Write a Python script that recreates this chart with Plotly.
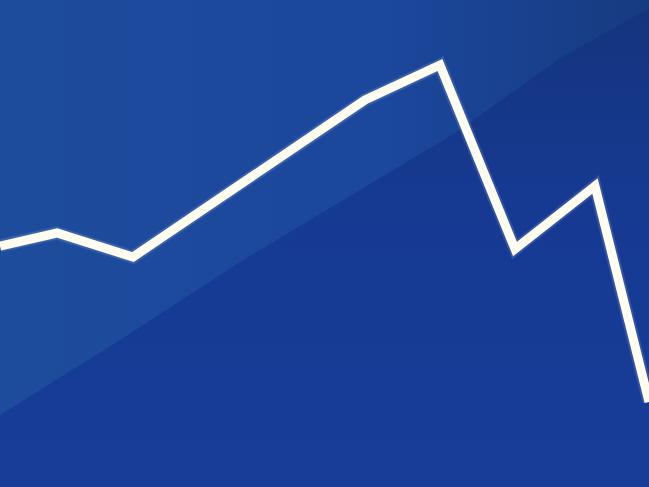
import plotly.graph_objects as go

# trace of the white line, in picture units (x to the right, y downwards)
line_x = [0, 57, 133, 365, 440, 515, 595, 649]
line_y = [246, 233, 257, 100, 65, 249, 186, 402]

# soft diagonal edge between the lighter upper band and darker lower band
edge_x = [0, 120, 240, 360, 455, 560, 649]
edge_y = [415, 340, 262, 190, 133, 58, 8]

W, H = 649, 487

fig = go.Figure()

# upper band (lighter, fading darker to the right)
fig.add_trace(go.Scatter(
    x=[0] + edge_x + [W, 0],
    y=[0] + edge_y + [0, 0],
    mode="lines", line=dict(width=0),
    fill="toself",
    fillgradient=dict(type="horizontal",
                      colorscale=[[0, "#1e4c9c"], [0.6, "#1b479c"], [1, "#173b80"]]),
    hoverinfo="skip", showlegend=False,
))

# lower band (darker, darkest near the top right)
fig.add_trace(go.Scatter(
    x=edge_x + [W, 0, 0],
    y=edge_y + [H, H, edge_y[0]],
    mode="lines", line=dict(width=0),
    fill="toself",
    fillgradient=dict(type="vertical",
                      colorscale=[[0, "#173d99"], [0.6, "#163a92"], [1, "#15347e"]]),
    hoverinfo="skip", showlegend=False,
))

# faint glow under the line
fig.add_trace(go.Scatter(
    x=line_x, y=line_y, mode="lines",
    line=dict(color="rgba(220,230,255,0.15)", width=13),
    hoverinfo="skip", showlegend=False,
))
fig.add_trace(go.Scatter(
    x=line_x, y=line_y, mode="lines",
    line=dict(color="#fffcf0", width=9),
    showlegend=False,
))

fig.update_xaxes(range=[0, W], visible=False, fixedrange=True)
fig.update_yaxes(range=[H, 0], visible=False, fixedrange=True)
fig.update_layout(
    width=W, height=H,
    margin=dict(l=0, r=0, t=0, b=0),
    paper_bgcolor="#1a4696",
    plot_bgcolor="#1a4696",
)

# drop the page's default body margin so the chart fills the window
fig.write_html("out.html", config={"displayModeBar": False},
               post_script="document.body.style.margin='0';"
                           "document.body.style.background='#1a4696';")
